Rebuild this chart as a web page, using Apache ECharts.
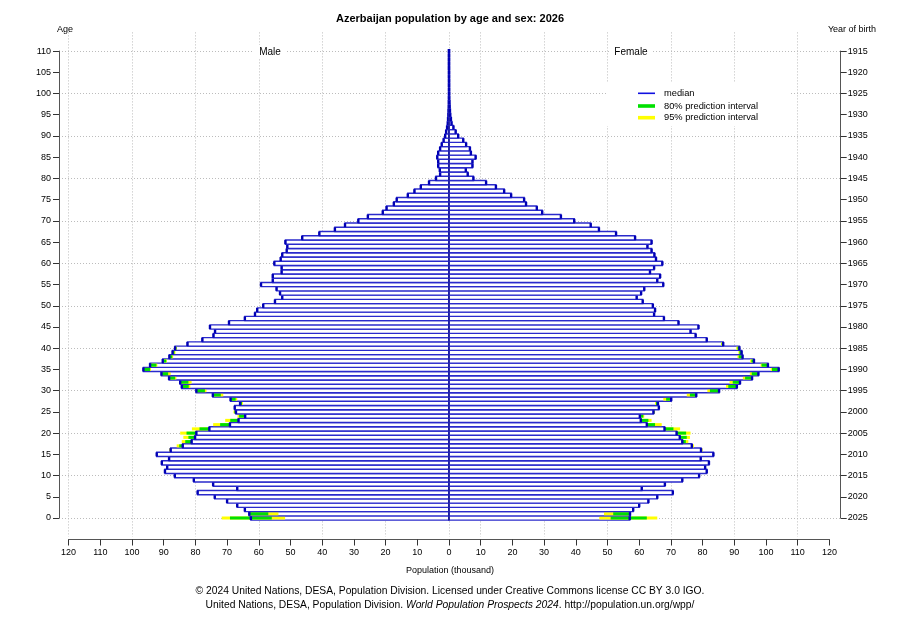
<!DOCTYPE html>
<html><head><meta charset="utf-8">
<script src="https://cdn.jsdelivr.net/npm/echarts@6/dist/echarts.min.js"></script>
<style>html,body{margin:0;padding:0;background:#fff}#c{width:900px;height:620px}</style>
</head><body><div id="c"></div>
<script>
// ---- data (thousands) ----
const ages = Array.from({length: 111}, (_, i) => i);
const male = [62.5,63.0,64.4,66.8,70.0,73.9,79.3,66.8,74.4,80.5,
  86.5,89.6,88.9,90.6,88.3,92.2,87.8,84.0,81.2,80.1,
  79.7,75.6,69.1,66.4,64.3,67.2,67.6,65.9,68.9,74.5,
  79.7,84.3,84.8,88.3,90.7,96.4,94.3,90.3,88.2,87.2,
  86.4,82.5,77.8,74.3,73.8,75.4,69.4,64.4,61.2,60.5,
  58.6,54.9,52.6,53.3,54.4,59.3,55.6,55.6,52.8,52.8,
  55.1,53.1,52.6,51.2,51.0,51.6,46.3,40.9,36.0,32.8,
  28.6,25.6,20.9,19.7,17.4,16.5,13.0,10.9,8.9,6.3,
  4.1,2.8,2.9,3.4,3.4,3.7,3.4,2.8,2.3,1.7,
  1.2,0.9,0.6,0.4,0.3,0.2,0.15,0.1,0.08,0.05,
  0.03,0.02,0.02,0.01,0.01,0,0,0,0,0,
  0];
const female = [57.0,57.1,58.1,60.0,62.9,65.7,70.6,60.8,68.1,73.6,
  78.9,81.3,80.8,82.0,79.4,83.4,79.5,76.6,73.6,72.8,
  71.8,68.0,62.4,60.5,60.2,64.5,66.2,65.9,70.1,78.0,
  85.2,90.8,91.8,95.6,97.6,104.0,100.6,96.2,92.6,92.3,
  91.6,86.5,81.3,77.8,76.2,78.7,72.4,67.8,64.7,65.0,
  64.3,61.1,59.2,60.6,61.6,67.6,65.7,66.6,63.4,64.7,
  67.3,65.3,64.8,63.9,62.6,63.9,58.7,52.7,47.3,44.7,
  39.5,35.3,29.4,27.7,24.3,23.7,19.6,17.4,14.8,11.7,
  7.7,5.9,5.3,7.4,7.4,8.4,6.9,6.6,5.4,4.5,
  2.9,2.1,1.4,0.8,0.6,0.4,0.3,0.2,0.15,0.1,
  0.08,0.05,0.04,0.03,0.02,0.01,0,0,0,0,
  0];
// prediction intervals (lo95, lo80, hi80, hi95) for the ages where they are visible
const intervalAges = [0,1,16,17,18,19,20,21,22,23,24,25,27,28,29,30,31,32,33,34,35,36,37,38,39,40,41];
const maleLo95 = [51.7,53.8,87.8,84.0,81.2,80.1,79.7,75.6,69.1,66.4,64.3,67.2,65.0,66.8,71.2,76.5,81.6,81.2,86.0,87.8,94.0,92.0,89.0,87.0,86.3,85.8,82.3];
const maleLo80 = [55.9,57.0,87.8,84.0,81.2,80.1,79.7,75.6,69.1,66.4,64.3,67.2,65.3,67.3,72.0,77.0,82.1,82.2,86.4,88.6,94.3,92.3,89.2,87.3,86.6,86.0,82.4];
const maleHi80 = [69.1,63.0,88.0,85.1,83.2,82.2,82.8,78.7,72.2,69.0,66.2,67.7,65.9,68.9,74.5,79.7,84.3,84.8,88.3,90.7,96.4,94.3,90.3,88.2,87.2,86.4,82.5];
const maleHi95 = [71.7,63.0,88.3,85.9,84.3,83.8,84.8,81.1,74.4,70.6,66.7,68.0,65.9,68.9,74.5,79.7,84.3,84.8,88.3,90.7,96.4,94.3,90.3,88.2,87.2,86.4,82.5];
const femaleLo95 = [47.4,48.9,79.5,76.6,73.6,72.8,71.8,68.0,62.4,60.5,60.2,64.5,65.0,67.6,75.0,81.5,87.4,88.5,92.7,94.9,101.5,98.3,95.0,91.0,91.3,90.6,85.8];
const femaleLo80 = [51.0,51.8,79.5,76.6,73.6,72.8,71.8,68.0,62.4,60.5,60.2,64.5,65.3,68.5,76.0,82.3,88.1,89.5,93.4,95.5,101.9,98.6,95.4,91.4,91.6,91.0,86.0];
const femaleHi80 = [62.4,57.1,79.7,76.9,74.7,75.0,74.8,70.8,65.0,62.9,61.3,64.8,65.9,70.1,78.0,85.2,90.8,91.8,95.6,97.6,104.0,100.6,96.2,92.6,92.3,91.6,86.5];
const femaleHi95 = [65.7,57.1,80.0,77.3,75.5,76.0,76.2,72.9,67.1,63.9,61.6,65.0,65.9,70.1,78.0,85.2,90.8,91.8,95.6,97.6,104.0,100.6,96.2,92.6,92.3,91.6,86.5];
const popTickLabels = ['120','110','100','90','80','70','60','50','40','30','20','10','0','10','20','30','40','50','60','70','80','90','100','110','120'];
const birthYearLabels = ['2025','2020','2015','2010','2005','2000','1995','1990','1985','1980','1975','1970','1965','1960','1955','1950','1945','1940','1935','1930','1925','1920','1915'];

// ---- build ----
function intervalMap(lo95, lo80, hi80, hi95) {
  const m = {};
  intervalAges.forEach((a, i) => { m[a] = [lo95[i], lo80[i], hi80[i], hi95[i]]; });
  return m;
}
const maleInt = intervalMap(maleLo95, maleLo80, maleHi80, maleHi95);
const femaleInt = intervalMap(femaleLo95, femaleLo80, femaleHi80, femaleHi95);

function makeRender(sign, imap) {
  return function (params, api) {
    const age = api.value(0), v = api.value(1);
    const pTop = api.coord([0, age + 0.5]);
    const pBot = api.coord([v, age - 0.5]);
    const x0 = pTop[0], x1 = pBot[0], y0 = pTop[1], y1 = pBot[1];
    const children = [{
      type: 'rect',
      shape: {x: Math.min(x0, x1), y: y0, width: Math.abs(x1 - x0), height: y1 - y0},
      style: {fill: '#ffffff', stroke: '#2a2acc', lineWidth: 1.4}
    }];
    const iv = imap[age];
    if (iv) {
      const cx = q => api.coord([sign * q, age])[0];
      const band = (a, b, col) => {
        const xa = cx(a), xb = cx(b);
        children.push({type: 'rect',
          shape: {x: Math.min(xa, xb), y: y0 + 0.6, width: Math.abs(xb - xa), height: y1 - y0 - 1.2},
          style: {fill: col}});
      };
      band(iv[0], iv[3], '#ffff00');
      band(iv[1], iv[2], '#00e000');
    }
    children.push({type: 'line', shape: {x1: x0, y1: y0, x2: x0, y2: y1},
      style: {stroke: '#1c1c96', lineWidth: 1.6}});
    children.push({type: 'line', shape: {x1: x1, y1: y0 + 0.1, x2: x1, y2: y1 - 0.1},
      style: {stroke: '#0000b4', lineWidth: 2.4}});
    return {type: 'group', children: children};
  };
}

const maleData = ages.map((a, i) => [a, -male[i]]);
const femaleData = ages.map((a, i) => [a, female[i]]);

const dotted = {color: '#bcbcbc', type: [1, 2], width: 1};
const FONT = '"Liberation Sans", Arial, sans-serif';
const gridBase = {containLabel: false, outerBoundsMode: 'none'};

const chart = echarts.init(document.getElementById('c'), null, {renderer: 'canvas'});
chart.setOption({
  backgroundColor: '#ffffff',
  animation: false,
  textStyle: {fontFamily: FONT},
  grid: [
    Object.assign({left: 57.5, width: 783, top: 32.4, height: 504.3}, gridBase),      // data
    Object.assign({left: 59, width: 781.7, top: 51.05, height: 466.95}, gridBase),    // age axes
    Object.assign({left: 68.6, width: 380.4, top: 32.4, height: 504.3}, gridBase),    // male v-grid
    Object.assign({left: 480.7, width: 317, top: 32.4, height: 504.3}, gridBase),     // female v-grid
    Object.assign({left: 68.6, width: 760.8, top: 530, height: 9.5}, gridBase)        // population axis
  ],
  xAxis: [
    {gridIndex: 0, type: 'value', min: -123.5, max: 123.5, show: false},
    {gridIndex: 1, type: 'value', min: 0, max: 1, show: false},
    {gridIndex: 2, type: 'value', min: -120, max: 0, interval: 20,
      axisLine: {show: false}, axisTick: {show: false}, axisLabel: {show: false},
      splitLine: {show: true, lineStyle: dotted}},
    {gridIndex: 3, type: 'value', min: 0, max: 100, interval: 20,
      axisLine: {show: false}, axisTick: {show: false}, axisLabel: {show: false},
      splitLine: {show: true, lineStyle: dotted}},
    {gridIndex: 4, type: 'value', min: -120, max: 120, interval: 10, position: 'bottom',
      axisLine: {show: true, lineStyle: {color: '#555', width: 1}},
      axisTick: {show: true, inside: false, length: 6, lineStyle: {color: '#333'}},
      axisLabel: {fontSize: 9, color: '#000', margin: 9, fontFamily: FONT,
        formatter: v => popTickLabels[Math.round((v + 120) / 10)]},
      splitLine: {show: false}}
  ],
  yAxis: [
    {gridIndex: 0, type: 'value', min: -4.4, max: 114.4, show: false},
    {gridIndex: 1, type: 'value', min: 0, max: 110, interval: 5, position: 'left',
      axisLine: {show: true, lineStyle: {color: '#555', width: 1}},
      axisTick: {show: true, inside: false, length: 6, lineStyle: {color: '#333'}},
      axisLabel: {fontSize: 9, color: '#000', margin: 8, fontFamily: FONT},
      splitLine: {show: false}},
    {gridIndex: 1, type: 'value', min: 0, max: 110, interval: 5, position: 'right',
      axisLine: {show: true, lineStyle: {color: '#555', width: 1}},
      axisTick: {show: true, inside: false, length: 6, lineStyle: {color: '#333'}},
      axisLabel: {fontSize: 9, color: '#000', margin: 7, fontFamily: FONT,
        formatter: v => birthYearLabels[Math.round(v / 5)]},
      splitLine: {show: false}},
    {gridIndex: 1, type: 'value', min: 0, max: 110, interval: 10, position: 'left',
      axisLine: {show: false}, axisTick: {show: false}, axisLabel: {show: false},
      splitLine: {show: true, lineStyle: dotted}},
    {gridIndex: 2, type: 'value', min: 0, max: 1, show: false},
    {gridIndex: 3, type: 'value', min: 0, max: 1, show: false},
    {gridIndex: 4, type: 'value', min: 0, max: 1, show: false}
  ],
  series: [
    {type: 'custom', name: 'Male', xAxisIndex: 0, yAxisIndex: 0, data: maleData,
      renderItem: makeRender(-1, maleInt), encode: {x: 1, y: 0}, clip: false, silent: true},
    {type: 'custom', name: 'Female', xAxisIndex: 0, yAxisIndex: 0, data: femaleData,
      renderItem: makeRender(1, femaleInt), encode: {x: 1, y: 0}, clip: false, silent: true}
  ],
  graphic: [
    {type: 'text', x: 450, y: 19, z: 100, style: {text: 'Azerbaijan population by age and sex: 2026',
      font: 'bold 11px ' + FONT, fill: '#000', align: 'center', verticalAlign: 'middle'}},
    {type: 'text', x: 65, y: 30, z: 100, style: {text: 'Age', font: '9px ' + FONT, fill: '#000', align: 'center', verticalAlign: 'middle'}},
    {type: 'text', x: 852, y: 30, z: 100, style: {text: 'Year of birth', font: '9px ' + FONT, fill: '#000', align: 'center', verticalAlign: 'middle'}},
    {type: 'rect', z: 99, shape: {x: 254, y: 45, width: 32, height: 13}, style: {fill: '#ffffff'}},
    {type: 'rect', z: 99, shape: {x: 610, y: 45, width: 42, height: 13}, style: {fill: '#ffffff'}},
    {type: 'text', x: 270, y: 52, z: 100, style: {text: 'Male', font: '10px ' + FONT, fill: '#000', align: 'center', verticalAlign: 'middle'}},
    {type: 'text', x: 631, y: 52, z: 100, style: {text: 'Female', font: '10px ' + FONT, fill: '#000', align: 'center', verticalAlign: 'middle'}},
    {type: 'rect', z: 99, shape: {x: 607, y: 82, width: 183, height: 44}, style: {fill: '#ffffff'}},
    {type: 'rect', z: 100, shape: {x: 638, y: 92.5, width: 17, height: 1.6}, style: {fill: '#1010e0'}},
    {type: 'rect', z: 100, shape: {x: 638, y: 104.2, width: 17, height: 3.6}, style: {fill: '#00e000'}},
    {type: 'rect', z: 100, shape: {x: 638, y: 115.9, width: 17, height: 3.6}, style: {fill: '#ffff00'}},
    {type: 'text', x: 664, y: 93.3, z: 100, style: {text: 'median', font: '9.3px ' + FONT, fill: '#000', align: 'left', verticalAlign: 'middle'}},
    {type: 'text', x: 664, y: 106, z: 100, style: {text: '80% prediction interval', font: '9.3px ' + FONT, fill: '#000', align: 'left', verticalAlign: 'middle'}},
    {type: 'text', x: 664, y: 117.7, z: 100, style: {text: '95% prediction interval', font: '9.3px ' + FONT, fill: '#000', align: 'left', verticalAlign: 'middle'}},
    {type: 'text', x: 450, y: 571, z: 100, style: {text: 'Population (thousand)', font: '9px ' + FONT, fill: '#000', align: 'center', verticalAlign: 'middle'}},
    {type: 'text', x: 450, y: 591, z: 100, style: {text: '\u00a9 2024 United Nations, DESA, Population Division. Licensed under Creative Commons license CC BY 3.0 IGO.',
      font: '10.3px ' + FONT, fill: '#000', align: 'center', verticalAlign: 'middle'}},
    {type: 'text', x: 450, y: 605, z: 100, style: {
      text: '{n|United Nations, DESA, Population Division. }{i|World Population Prospects 2024}{n|. http://population.un.org/wpp/}',
      rich: {n: {fontSize: 10.3, fontFamily: FONT, fill: '#000'}, i: {fontSize: 10.3, fontFamily: FONT, fontStyle: 'italic', fill: '#000'}},
      align: 'center', verticalAlign: 'middle'}}
  ]
});
</script>
</body></html>
